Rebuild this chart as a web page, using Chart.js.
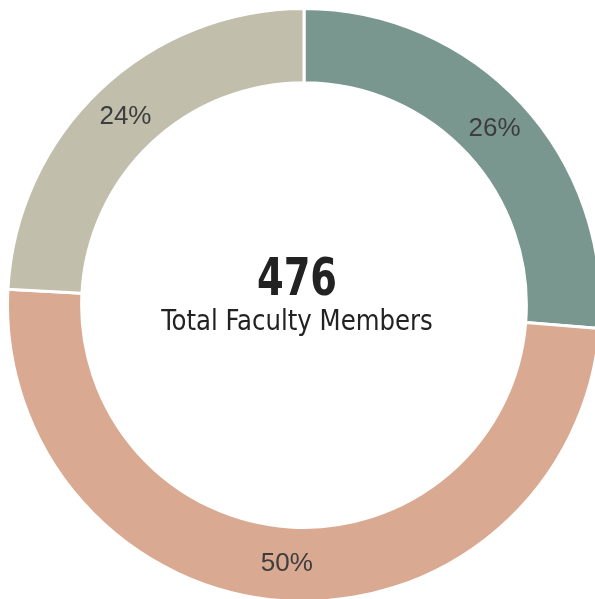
<!DOCTYPE html>
<html>
<head>
<meta charset="utf-8">
<script src="https://cdn.jsdelivr.net/npm/chart.js@4.4.1/dist/chart.umd.min.js"></script>
<style>
  html, body { margin: 0; padding: 0; background: #fff; overflow: hidden; width: 595px; height: 599px; }
  #wrap { position: absolute; left: 6px; top: 7px; width: 596px; height: 596px; }
</style>
</head>
<body>
<div id="wrap"><canvas id="facultyChart" width="596" height="596"></canvas></div>
<script>
const groups = ['Group A', 'Group B', 'Group C'];
const counts = [125, 236, 115];
const colors = ['#7a978f', '#d9a991', '#c1beab'];
const centerLabel = 'Total Faculty Members';

const total = counts.reduce((a, b) => a + b, 0);

const labelPlugin = {
  id: 'sliceLabels',
  afterDatasetsDraw(chart) {
    const ctx = chart.ctx;
    const meta = chart.getDatasetMeta(0);
    ctx.save();
    ctx.font = '26px "Liberation Sans", Arial, sans-serif';
    ctx.fillStyle = '#3d3d3d';
    ctx.textAlign = 'center';
    ctx.textBaseline = 'middle';
    meta.data.forEach((arc, i) => {
      const p = arc.tooltipPosition();
      const pct = Math.round(counts[i] / total * 100) + '%';
      ctx.fillText(pct, p.x, p.y);
    });

    // center text, squeezed a bit to look like a condensed face
    const cx = meta.data[0].x - 7;
    const cy = meta.data[0].y;
    ctx.fillStyle = '#222';
    ctx.textBaseline = 'alphabetic';
    ctx.save();
    ctx.translate(cx, cy - 10);
    ctx.scale(0.82, 1);
    ctx.font = 'bold 52px "DejaVu Sans Condensed", sans-serif';
    ctx.fillText(String(total), 0, 0);
    ctx.restore();
    ctx.save();
    ctx.translate(cx, cy + 25);
    ctx.scale(0.97, 1);
    ctx.font = '28px "DejaVu Sans Condensed", sans-serif';
    ctx.fillText(centerLabel, 0, 0);
    ctx.restore();
    ctx.restore();
  }
};

new Chart(document.getElementById('facultyChart'), {
  type: 'doughnut',
  data: {
    labels: groups,
    datasets: [{
      data: counts,
      backgroundColor: colors,
      borderColor: '#fff',
      borderWidth: 3
    }]
  },
  options: {
    responsive: false,
    animation: false,
    cutout: '75%',
    layout: { padding: 0 },
    plugins: { legend: { display: false }, tooltip: { enabled: false } }
  },
  plugins: [labelPlugin]
});
</script>
</body>
</html>
